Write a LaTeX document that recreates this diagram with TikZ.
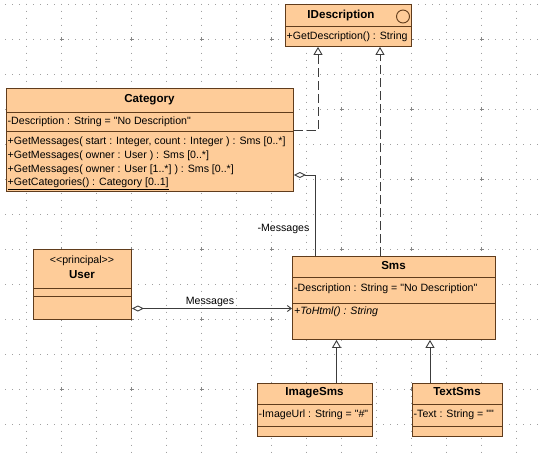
\documentclass[tikz,border=0pt]{standalone}
\usepackage{fontspec}
\newfontfamily\umlfont{Liberation Sans}
\usetikzlibrary{arrows.meta,calc}
\definecolor{clsfill}{RGB}{254,204,153}
\definecolor{clsline}{RGB}{96,60,28}
\definecolor{linkcol}{RGB}{60,60,60}
\definecolor{gridcol}{RGB}{160,160,160}
\definecolor{gridmark}{RGB}{135,135,135}

\tikzset{
  cls/.style={draw=clsline, fill=clsfill, line width=0.9pt, rectangle, inner sep=0pt, anchor=north west},
  sep/.style={draw=clsline, line width=0.9pt},
  txt/.style={inner sep=0pt, text height=8pt, text depth=2pt, text=black},
  ttl/.style={txt, font=\umlfont\bfseries\fontsize{11.6}{13}\selectfont},
  mem/.style={txt, anchor=west},
  link/.style={draw=linkcol, line width=0.9pt},
  gen/.style={link, -{Triangle[open, length=8pt, width=9pt]}},
  real/.style={gen, dash pattern=on 9pt off 4pt},
  agg/.style={link, {Diamond[open, length=12pt, width=6pt]}-},
  nav/.style={link, {Diamond[open, length=12pt, width=6pt]}-{Straight Barb[length=4pt, width=6pt]}},
  gridline/.style={draw=gridcol, line width=1pt, dash pattern=on 1pt off 6pt},
  gridplus/.style={draw=gridmark, line width=0.7pt}
}

\begin{document}
\begin{tikzpicture}[x=1pt, y=-1pt, font=\umlfont\fontsize{10.6}{13}\selectfont]
\useasboundingbox[fill=white] (0,0) rectangle (538,455);

% dotted background grid
\foreach \i in {0,...,14} { \draw[gridline] ({26.5+35*\i},-3.5) -- ({26.5+35*\i},458); }
\foreach \j in {0,...,12} { \draw[gridline] (-2,{4+35*\j}) -- (540,{4+35*\j}); }
\foreach \i in {0,...,6} { \foreach \j in {0,...,6} {
  \draw[gridplus] ({61.5+70*\i-2},{39+70*\j}) -- ++(4,0);
  \draw[gridplus] ({61.5+70*\i},{39+70*\j-2}) -- ++(0,4);
} }

% IDescription interface
\node[cls, minimum width=126pt, minimum height=42pt] (idesc) at (285,4) {};
\draw[sep] ($(idesc.north west)+(0,22)$) -- ++(126,0);
\draw[draw=clsline, line width=0.9pt] (403,16.5) circle (6.5);
\node[ttl] (idescT) at (341,15) {IDescription};
\node[mem] (idescM) at (286.5,36) {+GetDescription() : String};

% Category class
\node[cls, minimum width=287pt, minimum height=103pt] (cat) at (6,88) {};
\draw[sep] ($(cat.north west)+(0,24)$) -- ++(287,0);
\draw[sep] ($(cat.north west)+(0,43)$) -- ++(287,0);
\node[ttl] (catT) at (149.5,99) {Category};
\node[mem] (catA) at (7.5,121.5) {-Description : String = "No Description"};
\node[mem] (catM1) at (7.5,141.5) {+GetMessages( start : Integer, count : Integer ) : Sms [0..*]};
\node[mem] (catM2) at (7.5,155.5) {+GetMessages( owner : User ) : Sms [0..*]};
\node[mem] (catM3) at (7.5,169.5) {+GetMessages( owner : User [1..*] ) : Sms [0..*]};
\node[mem] (catM4) at (7.5,182.5) {\underline{+GetCategories() : Category [0..1]}};

% User class
\node[cls, minimum width=98pt, minimum height=70pt] (user) at (33,249) {};
\draw[sep] ($(user.north west)+(0,39)$) -- ++(98,0);
\draw[sep] ($(user.north west)+(0,47)$) -- ++(98,0);
\node[txt] (userS) at (82,260) {<<principal>>};
\node[ttl] (userT) at (82,275.5) {User};

% Sms class
\node[cls, minimum width=203pt, minimum height=83pt] (sms) at (292,256) {};
\draw[sep] ($(sms.north west)+(0,21)$) -- ++(203,0);
\draw[sep] ($(sms.north west)+(0,47)$) -- ++(203,0);
\node[ttl] (smsT) at (393.5,266.5) {Sms};
\node[mem] (smsA) at (294,288) {-Description : String = "No Description"};
\node[mem] (smsM) at (294,311) {\itshape +ToHtml() : String};

% ImageSms class
\node[cls, minimum width=115pt, minimum height=53pt] (imgsms) at (257,383) {};
\draw[sep] ($(imgsms.north west)+(0,21.5)$) -- ++(115,0);
\draw[sep] ($(imgsms.north west)+(0,43)$) -- ++(115,0);
\node[ttl] (imgT) at (314.5,392.5) {ImageSms};
\node[mem] (imgA) at (258.5,414.5) {-ImageUrl : String = "\#"};

% TextSms class
\node[cls, minimum width=90pt, minimum height=53pt] (txtsms) at (412,383) {};
\draw[sep] ($(txtsms.north west)+(0,21.5)$) -- ++(90,0);
\draw[sep] ($(txtsms.north west)+(0,43)$) -- ++(90,0);
\node[ttl] (txtT) at (457,392.5) {TextSms};
\node[mem] (txtA) at (413.5,414.5) {-Text : String = ""};

% realizations of IDescription
\draw[real] ($(cat.north east)+(0,42.5)$) -| ($(idesc.south west)+(33,0)$);
\draw[real] ($(sms.north west)+(88,0)$) -- ($(idesc.south west)+(95,0)$);

% aggregation Category -> Sms
\draw[agg] ($(cat.north east)+(0,87)$) -| ($(sms.north west)+(23,0)$);
\node[txt] (aggL) at (283.5,228.5) {-Messages};

% navigable aggregation User -> Sms
\draw[nav] ($(user.north east)+(0,59.5)$) -- ($(sms.north west)+(0,52.5)$);
\node[txt] (navL) at (210,301.5) {Messages};

% generalizations
\draw[gen] ($(imgsms.north west)+(79.5,0)$) -- ($(sms.south west)+(44.5,0)$);
\draw[gen] ($(txtsms.north west)+(18,0)$) -- ($(sms.south west)+(138,0)$);
\end{tikzpicture}
\end{document}
